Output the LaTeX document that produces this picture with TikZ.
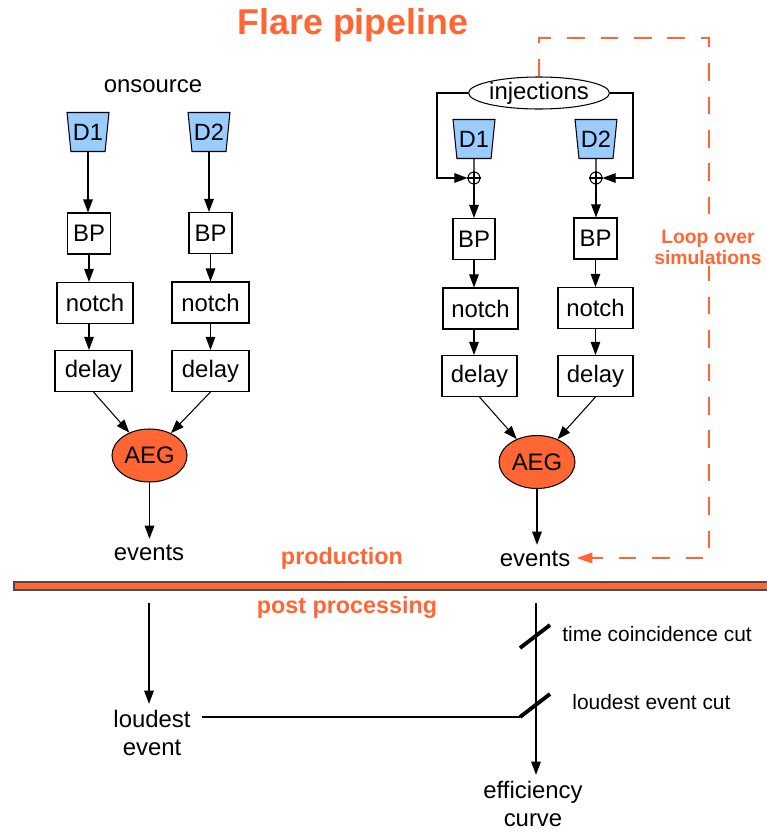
\documentclass[tikz,border=0pt]{standalone}
\usepackage{fontspec}
\setmainfont{Liberation Sans}
\usetikzlibrary{shapes.geometric,arrows.meta}
\definecolor{flare}{RGB}{255,102,51}
\definecolor{detblue}{RGB}{153,204,255}

\begin{document}
\begin{tikzpicture}[x=0.02cm, y=-0.02cm, line width=0.6pt,
	lbl/.style={font=\fontsize{13.6}{16}\selectfont},
	box/.style={draw, rectangle, lbl, inner sep=0pt, minimum height=0.82cm},
	det/.style={draw, fill=detblue, trapezium, shape border rotate=180, trapezium angle=78,
		trapezium stretches=true, minimum width=0.84cm, minimum height=0.78cm, inner sep=0pt,
		font=\fontsize{13.4}{15}\selectfont},
	aeg/.style={draw, ellipse, fill=flare, lbl, minimum width=1.5cm, minimum height=1.06cm, inner sep=0pt},
	plus/.style={draw, circle, fill=white, minimum size=0.24cm, inner sep=0pt},
	arr/.style={-{Triangle[length=7.5pt,width=5.5pt]}},
	hdr/.style={text=flare, font=\fontsize{13.3}{16}\selectfont\bfseries},
	cutlbl/.style={font=\fontsize{11.9}{14}\selectfont, anchor=west},
	cutmark/.style={line width=2.2pt},
	simloop/.style={draw=flare, line width=1.1pt, dash pattern=on 10pt off 9pt,
		-{Triangle[length=9pt,width=6pt]}}
	]
	\useasboundingbox (0,0) rectangle (767,832);

	\draw (353,25) node[text=flare, font=\fontsize{20.4}{24}\selectfont\bfseries] (title) {Flare pipeline};

	% onsource pipeline
	\draw (153,86) node[lbl] (onsrc) {onsource};
	\draw (88,132) node[det] (D1a) {D1};
	\draw (209,132) node[det] (D2a) {D2};
	\draw (89,233.5) node[box, minimum width=0.86cm] (BP1a) {BP};
	\draw (210.5,233) node[box, minimum width=0.86cm] (BP2a) {BP};
	\draw (95,303) node[box, minimum width=1.52cm] (N1a) {notch};
	\draw (210.5,302.5) node[box, minimum width=1.54cm] (N2a) {notch};
	\draw (93.5,371) node[box, minimum width=1.54cm] (Dl1a) {delay};
	\draw (210.5,371) node[box, minimum width=1.54cm] (Dl2a) {delay};
	\draw (149.5,455.5) node[aeg] (AEGa) {AEG};
	\draw (149,553) node[lbl] (evA) {events};

	\path[arr]
	(D1a.south) edge (D1a.south |- BP1a.north)
	(D2a.south) edge (D2a.south |- BP2a.north)
	(BP1a.south) edge (BP1a.south |- N1a.north)
	(BP2a.south) edge (BP2a.south |- N2a.north)
	(BP1a.south |- N1a.south) edge (BP1a.south |- Dl1a.north)
	(BP2a.south |- N2a.south) edge (BP2a.south |- Dl2a.north)
	(Dl1a.south) edge (AEGa)
	(Dl2a.south) edge (AEGa)
	(AEGa.south) edge (AEGa.south |- evA.north)
	;

	% injection pipeline
	\draw (539,93) node[draw, ellipse, lbl, minimum width=2.28cm, minimum height=0.64cm, inner sep=0pt] (inj) {injections};
	\draw (474,139) node[det] (D1b) {D1};
	\draw (596,139) node[det] (D2b) {D2};
	\draw (474,178) node[plus] (P1b) {};
	\draw (596,178) node[plus] (P2b) {};
	\draw (P1b.north) -- (P1b.south) (P1b.west) -- (P1b.east);
	\draw (P2b.north) -- (P2b.south) (P2b.west) -- (P2b.east);
	\coordinate (Lc) at (437,178);
	\coordinate (Rc) at (633,178);
	\draw (D1b.south) -- (P1b.north);
	\draw (D2b.south) -- (P2b.north);
	\draw[arr] (inj.west) -| (Lc) -- (P1b.west);
	\draw[arr] (inj.east) -| (Rc) -- (P2b.east);

	\draw (474,239) node[box, minimum width=0.84cm] (BP1b) {BP};
	\draw (595.5,238.5) node[box, minimum width=0.86cm] (BP2b) {BP};
	\draw (480.5,308.5) node[box, minimum width=1.5cm] (N1b) {notch};
	\draw (595.5,308) node[box, minimum width=1.5cm] (N2b) {notch};
	\draw (479.5,376) node[box, minimum width=1.5cm] (Dl1b) {delay};
	\draw (595.5,376) node[box, minimum width=1.5cm] (Dl2b) {delay};
	\draw (537,462) node[aeg, minimum width=1.52cm] (AEGb) {AEG};
	\draw (535,559) node[lbl] (evB) {events};

	\path[arr]
	(P1b.south) edge (P1b.south |- BP1b.north)
	(P2b.south) edge (P2b.south |- BP2b.north)
	(BP1b.south) edge (BP1b.south |- N1b.north)
	(BP2b.south) edge (BP2b.south |- N2b.north)
	(BP1b.south |- N1b.south) edge (BP1b.south |- Dl1b.north)
	(BP2b.south |- N2b.south) edge (BP2b.south |- Dl2b.north)
	(Dl1b.south) edge (AEGb)
	(Dl2b.south) edge (AEGb)
	(AEGb.south) edge (AEGb.south |- evB.north)
	;

	% loop over simulations
	\coordinate (LpA) at (539,38);
	\coordinate (LpB) at (709,38);
	\coordinate (LpC) at (709,558);
	\draw[simloop] (inj.north) -- (LpA) -- (LpB) -- (LpC) -- (LpC -| evB.east);
	\draw (708,247) node[fill=white, text=flare, align=center, inner sep=1pt,
		font=\fontsize{11}{12}\selectfont\bfseries] (looptxt) {Loop over\\simulations};

	% separator
	\draw (342,558) node[hdr] (prod) {production};
	\draw[fill=flare, draw=black!70] (14,582) rectangle (775,590);
	\draw (347,608) node[hdr] (post) {post processing};

	% post processing
	\coordinate (topL) at (149,603);
	\coordinate (topR) at (536,603);
	\draw (152,733) node[lbl, align=center] (loud) {loudest\\event};
	\draw (533,804) node[lbl, align=center] (eff) {efficiency\\curve};
	\path[arr]
	(topL) edge (topL |- loud.north)
	(topR) edge (topR |- eff.north)
	;
	\coordinate (cutA1) at (520,648);
	\coordinate (cutA2) at (550,625);
	\coordinate (cutB1) at (520,717);
	\coordinate (cutB2) at (550,694);
	\draw[cutmark] (cutA1) -- (cutA2);
	\draw[cutmark] (cutB1) -- (cutB2);
	\draw ([xshift=0.1cm]loud.east |- cutB1) -- (cutB1);
	\draw (556,634) node[cutlbl] (tcc) {time coincidence cut};
	\draw (566,702) node[cutlbl] (lec) {loudest event cut};
\end{tikzpicture}
\end{document}
